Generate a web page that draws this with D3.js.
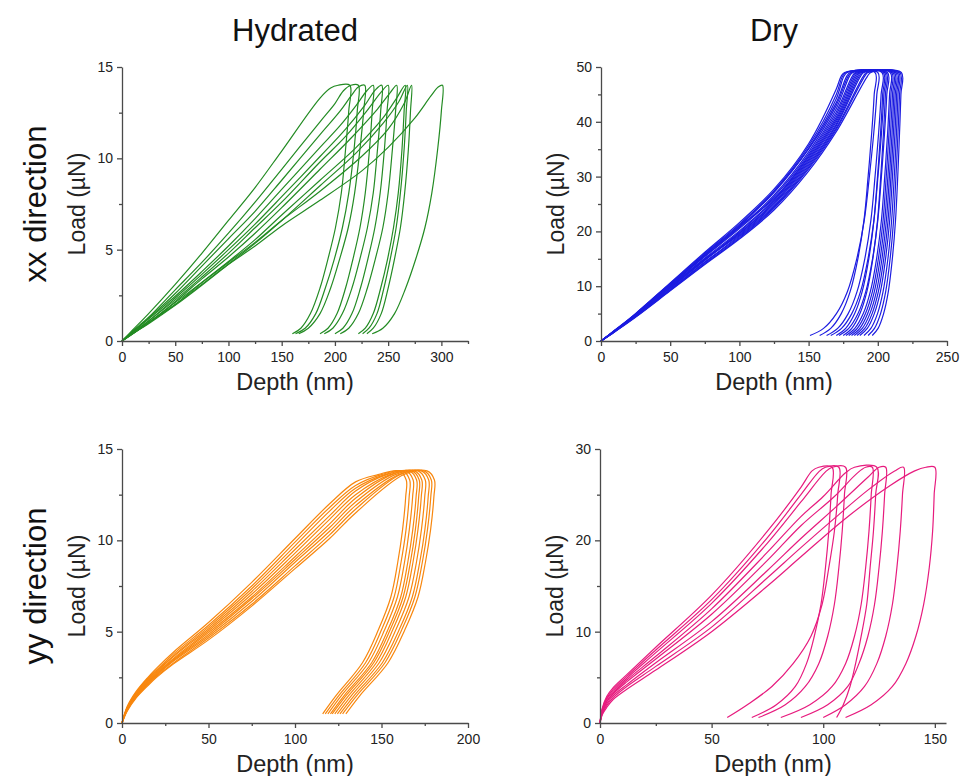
<!DOCTYPE html>
<html>
<head>
<meta charset="utf-8">
<script src="https://cdn.jsdelivr.net/npm/d3@7"></script>
<style>
  body { margin: 0; background: #fff; }
  svg { display: block; font-family: "Liberation Sans", Arial, sans-serif; }
</style>
</head>
<body>
<svg id="chart" width="963" height="776"></svg>
<script>
// ---- Hydrated, xx direction (green) ----
const hydXXDepth = [0, 10, 25, 50, 75, 100, 125, 150, 186]
const hydXXLoad = [
  [0, 0.6, 1.5, 3.1, 4.8, 6.6, 8.4, 10.4, 13.3],
  [0, 0.55, 1.3, 2.8, 4.3, 5.9, 7.6, 9.4, 12.0],
  [0, 0.5, 1.25, 2.6, 4.1, 5.6, 7.1, 8.8, 11.3],
  [0, 0.5, 1.2, 2.45, 3.8, 5.2, 6.7, 8.3, 10.6],
  [0, 0.45, 1.1, 2.35, 3.65, 5.0, 6.4, 7.9, 10.1],
  [0, 0.45, 1.1, 2.25, 3.5, 4.8, 6.2, 7.6, 9.8],
  [0, 0.4, 1.0, 2.15, 3.4, 4.6, 5.9, 7.3, 9.4],
  [0, 0.4, 1.0, 2.0, 3.2, 4.35, 5.55, 6.9, 8.8],
  [0, 0.4, 0.95, 1.95, 3.05, 4.2, 5.35, 6.6, 8.5],
  [0, 0.42, 1.0, 2.1, 3.2, 4.3, 5.4, 6.6, 8.2],
  [0, 0.4, 1.0, 2.0, 3.1, 4.2, 5.2, 6.3, 7.7]
]
const hydXXTop = [
  [[196, 13.85], [203, 14.0], [214, 14.0]],
  [[200, 13.0], [208, 13.7], [215, 14.0], [222, 14.0]],
  [[205, 12.6], [215, 13.4], [222, 13.9], [228, 14.0]],
  [[205, 11.8], [220, 12.9], [230, 13.7], [236, 14.0]],
  [[210, 11.6], [228, 12.9], [238, 13.75], [244, 14.0]],
  [[210, 11.2], [230, 12.6], [243, 13.6], [250, 14.0]],
  [[215, 11.1], [240, 12.7], [252, 13.6], [258, 14.0]],
  [[220, 10.6], [245, 12.2], [258, 13.3], [266, 14.0]],
  [[220, 10.3], [245, 11.9], [260, 13.1], [268, 14.0]],
  [[225, 10.1], [250, 11.6], [265, 13.0], [272, 14.0]],
  [[225, 9.3], [250, 10.6], [275, 12.2], [290, 13.4], [297, 13.9], [301, 14.0]]
]
const hydXXUnloadLoad = [12.6, 10.5, 8.1, 6.2, 4.5, 2.9, 1.5, 0.7, 0.4]
const hydXXUnloadDepth = [
  [213, 210, 206, 200.5, 193.5, 186, 177, 168, 160],
  [221, 218, 213, 207, 199.5, 191, 182, 172, 163],
  [227, 223.5, 218.5, 212.5, 204.5, 196, 186, 175, 166],
  [235, 232.5, 228.5, 223.5, 217, 210, 202, 193.5, 186],
  [243, 240, 236, 230.5, 223.5, 216, 207, 198, 190],
  [249, 246.5, 242.5, 237.5, 231, 224, 216, 207.5, 200],
  [257, 254, 250, 245, 238, 230.5, 222, 213, 205],
  [265, 263, 259.5, 255, 249.5, 243, 236, 228.5, 222],
  [267, 265, 261.5, 257.5, 252, 246, 239.5, 232, 226],
  [271, 269, 265.5, 261.5, 256, 250, 243.5, 236, 230],
  [300, 296.5, 291, 284.5, 276, 266.5, 256, 245, 235]
]

// ---- Dry, xx direction (blue) ----
const dryXXDepth = [0, 10, 25, 50, 75, 100, 125, 150, 170]
const dryXXLoad = [
  [0, 2.0, 5.0, 10.6, 16.2, 21.6, 27.7, 36.0, 46.0],
  [0, 1.9, 5.0, 10.5, 16.0, 21.3, 27.4, 35.6, 45.0],
  [0, 1.9, 4.9, 10.4, 15.8, 21.1, 27.1, 35.2, 44.2],
  [0, 1.9, 4.9, 10.3, 15.7, 20.9, 27.3, 35.0, 43.5],
  [0, 1.9, 4.8, 10.2, 15.5, 20.7, 26.6, 34.5, 43.0],
  [0, 1.9, 4.8, 10.1, 15.4, 20.5, 26.3, 34.1, 42.4],
  [0, 1.85, 4.7, 10.0, 15.7, 20.9, 26.0, 33.8, 41.8],
  [0, 1.85, 4.7, 9.9, 15.1, 20.1, 25.8, 33.5, 41.3],
  [0, 1.8, 4.65, 9.8, 14.9, 19.9, 25.6, 33.2, 40.8],
  [0, 1.8, 4.6, 9.7, 14.8, 19.7, 25.3, 32.9, 40.4],
  [0, 1.8, 4.55, 9.6, 14.7, 19.6, 25.1, 32.6, 40.0],
  [0, 1.8, 4.5, 9.9, 15.0, 19.4, 24.9, 32.3, 39.6],
  [0, 1.75, 4.5, 9.4, 14.4, 19.2, 24.6, 32.0, 39.3],
  [0, 1.75, 4.45, 9.35, 14.3, 19.0, 24.4, 31.7, 38.9],
  [0, 1.7, 4.4, 9.25, 14.1, 18.8, 24.2, 31.4, 38.6],
  [0, 1.7, 4.35, 9.15, 13.95, 18.6, 23.9, 31.0, 38.2]
]
const dryXXTop = [
  [[173.5, 48.3], [176, 49], [200, 49]],
  [[174.5, 48.3], [177, 49], [198, 49]],
  [[175.5, 48.3], [178, 49], [203, 49]],
  [[177.5, 48.3], [180, 49], [205, 49]],
  [[178.5, 48.3], [181, 49], [204, 49]],
  [[179.5, 48.3], [182, 49], [207, 49]],
  [[181.5, 48.3], [184, 49], [206, 49]],
  [[182.5, 48.3], [185, 49], [209, 49]],
  [[183.5, 48.3], [186, 49], [210, 49]],
  [[184.5, 48.3], [187, 49], [211, 49]],
  [[185.5, 48.3], [188, 49], [212, 49]],
  [[186.5, 48.3], [189, 49], [213, 49]],
  [[187.5, 48.3], [190, 49], [214, 49]],
  [[189.5, 48.3], [192, 49], [215, 49]],
  [[190.5, 48.3], [193, 49], [216, 49]],
  [[192.5, 48.3], [195, 49], [217, 49]]
]
const dryXXUnloadLoad = [45, 38, 30, 22, 15, 9, 5, 2.3, 1.0]
const dryXXUnloadDepth = [
  [199.3, 197.1, 193.9, 190.2, 184.8, 178, 170.1, 160.8, 151],
  [197.4, 195.6, 193, 190, 185.6, 180, 173.6, 166, 158],
  [202.4, 200.6, 198, 195, 190.6, 185, 178.6, 171, 163],
  [204.4, 202.7, 200.1, 197.2, 192.9, 187.5, 181.2, 173.8, 166],
  [203.5, 202, 199.8, 197.2, 193.5, 188.7, 183.3, 176.8, 170],
  [206.5, 204.9, 202.6, 200, 196.2, 191.3, 185.7, 179, 172],
  [205.5, 204.1, 202.1, 199.8, 196.4, 192.1, 187.1, 181.2, 175],
  [208.5, 207.1, 205, 202.6, 199.1, 194.6, 189.5, 183.4, 177],
  [209.5, 208.1, 206.1, 203.8, 200.4, 196.1, 191.1, 185.2, 179],
  [210.6, 209.2, 207.3, 205, 201.7, 197.5, 192.7, 187, 181],
  [211.6, 210.3, 208.4, 206.2, 203, 199, 194.3, 188.8, 183],
  [212.6, 211.3, 209.5, 207.4, 204.3, 200.4, 195.9, 190.6, 185],
  [213.6, 212.4, 210.6, 208.6, 205.6, 201.9, 197.5, 192.4, 187],
  [214.6, 213.5, 211.9, 210, 207.3, 203.8, 199.8, 195, 190],
  [215.7, 214.6, 213.1, 211.4, 208.9, 205.7, 202, 197.6, 193],
  [216.7, 215.7, 214.4, 212.8, 210.5, 207.6, 204.2, 200.2, 196]
]

// ---- Hydrated, yy direction (orange) ----
const hydYYDepth = [0, 3, 8, 15, 20, 30, 50, 75, 100, 120, 135]
const hydYYLoad = [
  [0, 0.9, 1.7, 2.5, 3.0, 3.9, 5.5, 7.7, 10.1, 12.0, 13.2],
  [0, 0.85, 1.65, 2.45, 2.9, 3.8, 5.35, 7.5, 9.9, 11.8, 13.0],
  [0, 0.85, 1.6, 2.4, 2.85, 3.7, 5.25, 7.35, 9.7, 11.6, 12.85],
  [0, 0.8, 1.55, 2.35, 2.8, 3.65, 5.15, 7.2, 9.5, 11.35, 12.7],
  [0, 0.8, 1.5, 2.3, 2.75, 3.55, 5.05, 7.05, 9.3, 11.15, 12.5],
  [0, 0.75, 1.5, 2.25, 2.7, 3.5, 4.95, 6.9, 9.1, 10.9, 12.3],
  [0, 0.75, 1.45, 2.2, 2.65, 3.45, 4.85, 6.8, 8.95, 10.7, 12.1],
  [0, 0.7, 1.4, 2.15, 2.6, 3.4, 4.75, 6.65, 8.8, 10.5, 11.9],
  [0, 0.7, 1.4, 2.1, 2.55, 3.3, 4.65, 6.5, 8.6, 10.3, 11.7],
  [0, 0.65, 1.35, 2.05, 2.5, 3.25, 4.55, 6.4, 8.45, 10.1, 11.5]
]
const hydYYTop = [
  [[148, 13.6], [160, 13.8]],
  [[150, 13.6], [162, 13.8]],
  [[152, 13.6], [164, 13.8]],
  [[153, 13.6], [166, 13.8]],
  [[155, 13.6], [167.5, 13.8]],
  [[156, 13.6], [169, 13.8]],
  [[158, 13.6], [171, 13.8]],
  [[160, 13.6], [173, 13.8]],
  [[161, 13.6], [174.5, 13.8]],
  [[163, 13.6], [176.3, 13.8]]
]
const hydYYUnloadLoad = [13.3, 12.4, 10.6, 8.8, 6.9, 5.1, 3.3, 1.5, 0.5]
const hydYYUnloadDepth = [
  [164.3, 164, 162.2, 159.4, 155.4, 148.2, 139.0, 123.7, 116],
  [166.3, 166, 164.2, 161.3, 157.3, 150, 140.8, 125.3, 117.5],
  [168.3, 168, 166.1, 163.3, 159.2, 151.8, 142.5, 126.8, 119],
  [170.3, 170, 168.1, 165.2, 161.1, 153.7, 144.3, 128.4, 120.5],
  [171.8, 171.5, 169.6, 166.7, 162.5, 155, 145.5, 129.5, 121.5],
  [173.3, 173, 171.1, 168.2, 164, 156.5, 147, 131, 123],
  [175.3, 175, 173.1, 170.2, 165.9, 158.3, 148.7, 132.6, 124.5],
  [177.3, 177, 175.1, 172.1, 167.8, 160.2, 150.5, 134.2, 126],
  [178.8, 178.5, 176.6, 173.6, 169.3, 161.7, 152, 135.7, 127.5],
  [180.6, 180.3, 178.4, 175.4, 171.1, 163.5, 153.8, 137.5, 129.4]
]

// ---- Dry, yy direction (pink) ----
const dryYYDepth = [0, 1, 3, 6, 12, 25, 50, 75, 90]
const dryYYLoad = [
  [0, 1.6, 2.9, 3.9, 5.3, 8.3, 14.0, 21.0, 25.8],
  [0, 1.5, 2.7, 3.7, 5.1, 8.0, 13.5, 20.3, 25.0],
  [0, 1.4, 2.6, 3.5, 4.9, 7.7, 13.1, 19.7, 24.2],
  [0, 1.2, 2.3, 3.2, 4.5, 7.0, 11.9, 17.8, 21.6],
  [0, 1.1, 2.1, 3.0, 4.2, 6.6, 11.1, 16.7, 20.2],
  [0, 1.0, 1.9, 2.8, 4.0, 6.2, 10.5, 15.9, 19.2],
  [0, 0.9, 1.7, 2.6, 3.7, 5.8, 10.0, 15.0, 18.2],
  [0, 1.3, 2.4, 3.3, 4.7, 7.3, 12.5, 18.7, 22.6]
]
const dryYYTop = [
  [[95, 27.6], [98, 28], [104, 28]],
  [[98, 27.5], [101, 28], [107, 28]],
  [[101, 27.5], [104, 28], [110, 28]],
  [[105, 24.8], [115, 27.3], [119, 28], [122, 28]],
  [[105, 23.5], [120, 26.9], [125, 28], [128, 28]],
  [[105, 22.4], [120, 25.5], [132, 27.6], [136, 28]],
  [[110, 22.4], [130, 26.0], [141, 27.6], [146, 28], [150, 28]],
  [[100, 24.8], [110, 27.4], [114, 28], [124, 28]]
]
const dryYYUnloadLoad = [25, 21, 17, 13, 9.5, 6.5, 4, 2, 0.6]
const dryYYUnloadDepth = [
  [103.5, 102.5, 101, 99, 96, 92.5, 87.5, 79, 68],
  [106.5, 105, 102.5, 99.5, 94.5, 86.5, 77, 66, 57],
  [109.5, 108.5, 107, 105, 102, 98, 92, 83, 71],
  [121.5, 120.5, 119, 117, 114, 110, 104, 94, 81],
  [127.5, 126.5, 125, 123, 120, 116, 111, 102, 90],
  [135.5, 134.5, 133, 131, 128, 124, 118.5, 110, 100],
  [149.7, 149, 147.5, 145, 141.5, 137, 131, 121.5, 110],
  [123.5, 122.5, 121, 119.5, 117, 114.5, 112, 109, 106]
]

// ---- axis ticks ----
const ticksX325 = [0, 50, 100, 150, 200, 250, 300]
const minorX325 = [25, 75, 125, 175, 225, 275, 325]
const ticksX250 = [0, 50, 100, 150, 200, 250]
const minorX250 = [25, 75, 125, 175, 225]
const ticksX200 = [0, 50, 100, 150, 200]
const minorX200 = [25, 75, 125, 175]
const ticksX155 = [0, 50, 100, 150]
const minorX155 = [25, 75, 125]
const ticksY15 = [0, 5, 10, 15]
const minorY15 = [2.5, 7.5, 12.5]
const ticksY50 = [0, 10, 20, 30, 40, 50]
const minorY50 = [5, 15, 25, 35, 45]
const ticksY30 = [0, 10, 20, 30]
const minorY30 = [5, 15, 25]

const colTitles = ["Hydrated", "Dry"]
const rowTitles = ["xx direction", "yy direction"]

const svg = d3.select("#chart")
const panelW = 346
const panelH = 274
const axisColor = "#4a4a4a"
const textColor = "#222"

const panels = [
  { left: 122, bottom: 341, xMax: 325, yMax: 15, xt: ticksX325, xm: minorX325, yt: ticksY15, ym: minorY15,
    color: "#238b23", depth: hydXXDepth, load: hydXXLoad, top: hydXXTop, uLoad: hydXXUnloadLoad, uDepth: hydXXUnloadDepth },
  { left: 601, bottom: 341, xMax: 250, yMax: 50, xt: ticksX250, xm: minorX250, yt: ticksY50, ym: minorY50,
    color: "#1c1ce0", depth: dryXXDepth, load: dryXXLoad, top: dryXXTop, uLoad: dryXXUnloadLoad, uDepth: dryXXUnloadDepth },
  { left: 122, bottom: 723, xMax: 200, yMax: 15, xt: ticksX200, xm: minorX200, yt: ticksY15, ym: minorY15,
    color: "#f8870e", depth: hydYYDepth, load: hydYYLoad, top: hydYYTop, uLoad: hydYYUnloadLoad, uDepth: hydYYUnloadDepth },
  { left: 600, bottom: 723, xMax: 155, yMax: 30, xt: ticksX155, xm: minorX155, yt: ticksY30, ym: minorY30,
    color: "#e71b7e", depth: dryYYDepth, load: dryYYLoad, top: dryYYTop, uLoad: dryYYUnloadLoad, uDepth: dryYYUnloadDepth }
]

function styleAxis(sel) {
  sel.selectAll("path, line").attr("stroke", axisColor).attr("stroke-width", 1.3)
  sel.selectAll("text").attr("font-size", "14px").attr("fill", textColor)
    .attr("font-family", '"Liberation Sans", Arial, sans-serif')
}

panels.forEach(p => {
  const x = d3.scaleLinear().domain([0, p.xMax]).range([p.left, p.left + panelW])
  const y = d3.scaleLinear().domain([0, p.yMax]).range([p.bottom, p.bottom - panelH])

  // each curve = loading + hold + unloading
  const curves = p.load.map((ld, i) => {
    const pts = p.depth.map((h, j) => [h, ld[j]])
    p.top[i].forEach(d => pts.push(d))
    p.uDepth[i].forEach((h, j) => pts.push([h, p.uLoad[j]]))
    return pts
  })

  const line = d3.line()
    .x(d => x(d[0]))
    .y(d => y(d[1]))
    .curve(d3.curveCatmullRom.alpha(0.5))

  svg.append("g")
    .selectAll("path")
    .data(curves)
    .enter()
    .append("path")
    .attr("d", line)
    .attr("fill", "none")
    .attr("stroke", p.color)
    .attr("stroke-width", 1.2)
    .attr("stroke-linejoin", "round")

  // x axis
  const xg = svg.append("g").attr("transform", `translate(0,${p.bottom})`)
  xg.call(d3.axisBottom(x).tickValues(p.xt).tickSize(5).tickSizeOuter(0).tickPadding(6).tickFormat(d3.format("d")))
  styleAxis(xg)
  const xmg = svg.append("g").attr("transform", `translate(0,${p.bottom})`)
  xmg.call(d3.axisBottom(x).tickValues(p.xm).tickSize(3).tickFormat(""))
  xmg.select(".domain").remove()
  styleAxis(xmg)

  // y axis
  const yg = svg.append("g").attr("transform", `translate(${p.left},0)`)
  yg.call(d3.axisLeft(y).tickValues(p.yt).tickSize(5).tickSizeOuter(0).tickPadding(4).tickFormat(d3.format("d")))
  styleAxis(yg)
  const ymg = svg.append("g").attr("transform", `translate(${p.left},0)`)
  ymg.call(d3.axisLeft(y).tickValues(p.ym).tickSize(3).tickFormat(""))
  ymg.select(".domain").remove()
  styleAxis(ymg)

  // axis titles
  svg.append("text")
    .attr("x", p.left + panelW / 2)
    .attr("y", p.bottom + 49)
    .attr("text-anchor", "middle")
    .attr("font-size", "23.5px")
    .attr("fill", textColor)
    .text("Depth (nm)")
  svg.append("text")
    .attr("transform", `translate(${p.left - 37},${p.bottom - panelH / 2}) rotate(-90)`)
    .attr("text-anchor", "middle")
    .attr("font-size", "23px")
    .attr("fill", textColor)
    .text("Load (\u00b5N)")
})

// column and row titles
colTitles.forEach((t, i) => {
  svg.append("text")
    .attr("x", panels[i].left + panelW / 2)
    .attr("y", 41)
    .attr("text-anchor", "middle")
    .attr("font-size", "31px")
    .attr("fill", "#111")
    .text(t)
})
rowTitles.forEach((t, i) => {
  const p = panels[i * 2]
  svg.append("text")
    .attr("transform", `translate(46,${p.bottom - panelH / 2}) rotate(-90)`)
    .attr("text-anchor", "middle")
    .attr("font-size", "31px")
    .attr("fill", "#111")
    .text(t)
})
</script>
</body>
</html>
